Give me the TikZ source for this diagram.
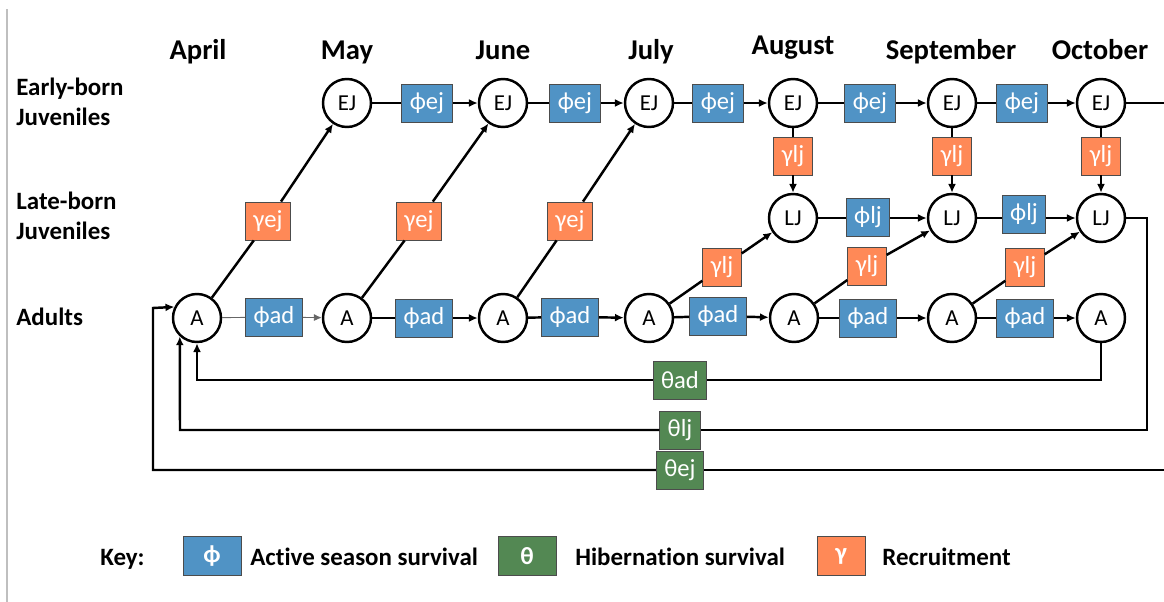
\documentclass[tikz,border=0pt]{standalone}
\usepackage{fontspec}
\setmainfont{Carlito}[Ligatures=CommonOff]
\usetikzlibrary{arrows.meta}
\definecolor{phiblue}{RGB}{80,147,197}
\definecolor{gamorange}{RGB}{255,137,87}
\definecolor{thgreen}{RGB}{83,136,83}
\begin{document}
\begin{tikzpicture}[x=0.02cm,y=-0.02cm,
  st/.style={circle,draw,line width=1.4pt,fill=white,minimum size=0.96cm,inner sep=0pt,font=\fontsize{13}{15}\selectfont},
  par/.style={draw=black!70,line width=0.5pt,minimum height=0.76cm,inner xsep=0.16cm,inner ysep=0pt,text=white,font=\fontsize{14}{16}\selectfont},
  phib/.style={par,fill=phiblue},
  gamb/.style={par,fill=gamorange},
  thb/.style={par,fill=thgreen},
  ln/.style={line width=1.4pt},
  arr/.style={line width=1.4pt,-{Latex[length=5pt,width=4.5pt]}},
  thinln/.style={line width=0.5pt,draw=black!60},
  thinarr/.style={line width=0.5pt,draw=black!60,-{Latex[length=4.5pt,width=4pt]}},
  month/.style={font=\bfseries\fontsize{16.3}{18}\selectfont,anchor=base,inner sep=0pt},
  rowlab/.style={font=\bfseries\fontsize{14.2}{16}\selectfont,anchor=base west,inner sep=0pt},
  keylab/.style={font=\bfseries\fontsize{14.2}{16}\selectfont,anchor=base west,inner sep=0pt},
  keybox/.style={par,minimum width=1.16cm,minimum height=0.78cm,font=\bfseries\fontsize{14}{16}\selectfont},
]
\path[use as bounding box] (0,0) rectangle (1164,602);
\draw[black!25,line width=0.6pt] (7,9) -- (7,602);

% month labels
\node[month] (mApr) at (198,59) {April};
\node[month] (mMay) at (347,59) {May};
\node[month] (mJun) at (503,59) {June};
\node[month] (mJul) at (651,59) {July};
\node[month] (mAug) at (793,54) {August};
\node[month] (mSep) at (951,59) {September};
\node[month] (mOct) at (1100,59) {October};

% row labels
\node[rowlab] (rE1) at (16,95) {Early-born};
\node[rowlab] (rE2) at (16,125) {Juveniles};
\node[rowlab] (rL1) at (16,209) {Late-born};
\node[rowlab] (rL2) at (16,239) {Juveniles};
\node[rowlab] (rA) at (16,325) {Adults};

% state nodes
\node[st] (ej2) at (347,103) {EJ};
\node[st] (ej3) at (503,103) {EJ};
\node[st] (ej4) at (649,103) {EJ};
\node[st] (ej5) at (793,103) {EJ};
\node[st] (ej6) at (952,103) {EJ};
\node[st] (ej7) at (1101,103) {EJ};
\node[st] (lj1) at (793,218) {LJ};
\node[st] (lj2) at (952,218) {LJ};
\node[st] (lj3) at (1101,218) {LJ};
\node[st] (a1) at (197,318) {A};
\node[st] (a2) at (347,318) {A};
\node[st] (a3) at (503,318) {A};
\node[st] (a4) at (649,318) {A};
\node[st] (a5) at (794,318) {A};
\node[st] (a6) at (952,318) {A};
\node[st] (a7) at (1101,318) {A};

% parameter boxes
\node[phib] (pe1) at (427,103) {ϕej};
\node[phib] (pe2) at (575,103) {ϕej};
\node[phib] (pe3) at (718,103) {ϕej};
\node[phib] (pe4) at (870,103) {ϕej};
\node[phib] (pe5) at (1022,103) {ϕej};
\node[phib] (pl1) at (868,217) {ϕlj};
\node[phib] (pl2) at (1024,214) {ϕlj};
\node[phib] (pa1) at (274,317) {ϕad};
\node[phib] (pa2) at (424,318) {ϕad};
\node[phib] (pa3) at (570,317) {ϕad};
\node[phib] (pa4) at (718,316) {ϕad};
\node[phib] (pa5) at (868,318) {ϕad};
\node[phib] (pa6) at (1025,318) {ϕad};
\node[gamb] (ge1) at (268,221) {γej};
\node[gamb] (ge2) at (419,221) {γej};
\node[gamb] (ge3) at (570,221) {γej};
\node[gamb] (gv1) at (793,156) {γlj};
\node[gamb] (gv2) at (952,156) {γlj};
\node[gamb] (gv3) at (1101,156) {γlj};
\node[gamb] (gd1) at (722,267) {γlj};
\node[gamb] (gd2) at (867,266) {γlj};
\node[gamb] (gd3) at (1025,267) {γlj};
\node[thb] (tad) at (680,380) {θad};
\node[thb] (tlj) at (680,430) {θlj};
\node[thb] (tej) at (680,470) {θej};

% early-born row
\draw[ln] (ej2) -- (pe1); \draw[arr] (pe1) -- (ej3);
\draw[ln] (ej3) -- (pe2); \draw[arr] (pe2) -- (ej4);
\draw[ln] (ej4) -- (pe3); \draw[arr] (pe3) -- (ej5);
\draw[ln] (ej5) -- (pe4); \draw[arr] (pe4) -- (ej6);
\draw[ln] (ej6) -- (pe5); \draw[arr] (pe5) -- (ej7);
% EJ -> LJ
\draw[ln] (ej5) -- (gv1); \draw[arr] (gv1) -- (lj1);
\draw[ln] (ej6) -- (gv2); \draw[arr] (gv2) -- (lj2);
\draw[ln] (ej7) -- (gv3); \draw[arr] (gv3) -- (lj3);
% late-born row
\draw[ln] (lj1) -- (lj1 -| pl1.west); \draw[arr] (pl1.east |- lj2) -- (lj2);
\draw[ln] (lj2) -- (lj2 -| pl2.west); \draw[arr] (pl2.east |- lj3) -- (lj3);
% adult row
\draw[thinln] (a1) -- (pa1); \draw[thinarr] (pa1) -- (a2);
\draw[ln] (a2) -- (pa2); \draw[arr] (pa2) -- (a3);
\draw[ln] (a3) -- (pa3); \draw[arr] (pa3) -- (a4);
\draw[ln] (a4) -- (pa4); \draw[arr] (pa4) -- (a5);
\draw[ln] (a5) -- (pa5); \draw[arr] (pa5) -- (a6);
\draw[ln] (a6) -- (pa6); \draw[arr] (pa6) -- (a7);
% recruitment of early-born
\draw[ln] (a1) -- (ge1); \draw[arr] (ge1) -- (ej2);
\draw[ln] (a2) -- (ge2); \draw[arr] (ge2) -- (ej3);
\draw[ln] (a3) -- (ge3); \draw[arr] (ge3) -- (ej4);
% recruitment of late-born
\draw[ln] (a4) -- (gd1); \draw[arr] (gd1) -- (lj1);
\draw[ln] (a5) -- (gd2); \draw[arr] (gd2) -- (lj2);
\draw[ln] (a6) -- (gd3); \draw[arr] (gd3) -- (lj3);
% hibernation loops
\draw[ln] (a7) -- (a7 |- tad) -- (tad);
\draw[arr] (tad) -- (a1 |- tad) -- (a1);
\draw[ln] (lj3) -- (1147,218) -- (1147,430) -- (tlj);
\draw[arr] (tlj) -- (180,430) -- (a1.227);
\draw[ln] (ej7) -- (1172,103) -- (1172,470) -- (tej);
\draw[arr] (tej) -- (153,470) -- (153,308) -- (a1.154);

% key
\node[keylab] (kKey) at (100,565) {Key:};
\node[keybox,fill=phiblue] (kphi) at (212,556) {ϕ};
\node[keylab] (kphit) at (250,565) {Active season survival};
\node[keybox,fill=thgreen] (kth) at (527,556) {θ};
\node[keylab] (ktht) at (575,565) {Hibernation survival};
\node[keybox,fill=gamorange,minimum width=0.96cm] (kgam) at (841,556) {γ};
\node[keylab] (kgamt) at (882,565) {Recruitment};
\end{tikzpicture}
\end{document}
